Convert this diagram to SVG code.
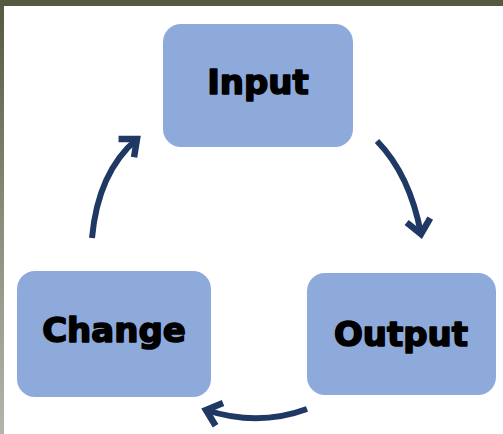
<svg xmlns="http://www.w3.org/2000/svg" width="503" height="434" viewBox="0 0 503 434">
<defs>
<linearGradient id="lg" x1="0" y1="0" x2="0" y2="1">
<stop offset="0" stop-color="#535a3f"/>
<stop offset="0.5" stop-color="#8a8d78"/>
<stop offset="1" stop-color="#b4b4ac"/>
</linearGradient>
<marker id="ah" markerUnits="userSpaceOnUse" markerWidth="34" markerHeight="34" refX="18" refY="14" orient="auto" viewBox="0 0 34 28">
<path d="M4,2 L18,14 L4,26" fill="none" stroke="#1f3864" stroke-width="6.5" stroke-linejoin="miter"/>
</marker>
<style>
.box{fill:#8eaadb;}
.lbl{font-family:"DejaVu Sans",sans-serif;font-weight:bold;font-size:34px;fill:#000;stroke:#000;stroke-width:1.6;stroke-linejoin:round;text-anchor:middle;}
.arr{fill:none;stroke:#1f3864;stroke-width:6;marker-end:url(#ah);}
</style>
</defs>
<rect x="0" y="0" width="503" height="434" fill="#ffffff"/>
<rect x="0" y="0" width="4" height="434" fill="url(#lg)"/>
<rect x="0" y="0" width="503" height="6" fill="#535a3f"/>
<g id="connectors">
<path class="arr" d="M377,141 Q410,175 421,234"/>
<path class="arr" d="M307,409 Q258,427 206,410"/>
<path class="arr" d="M92,238 Q98,172 137,139"/>
</g>
<g id="input">
<rect class="box" x="163" y="24" width="190" height="123" rx="18"/>
<text class="lbl" x="258" y="94">Input</text>
</g>
<g id="output">
<rect class="box" x="307" y="273" width="189" height="122" rx="18"/>
<text class="lbl" x="401" y="346">Output</text>
</g>
<g id="change">
<rect class="box" x="17" y="271" width="194" height="126" rx="18"/>
<text class="lbl" x="114" y="342">Change</text>
</g>
</svg>
